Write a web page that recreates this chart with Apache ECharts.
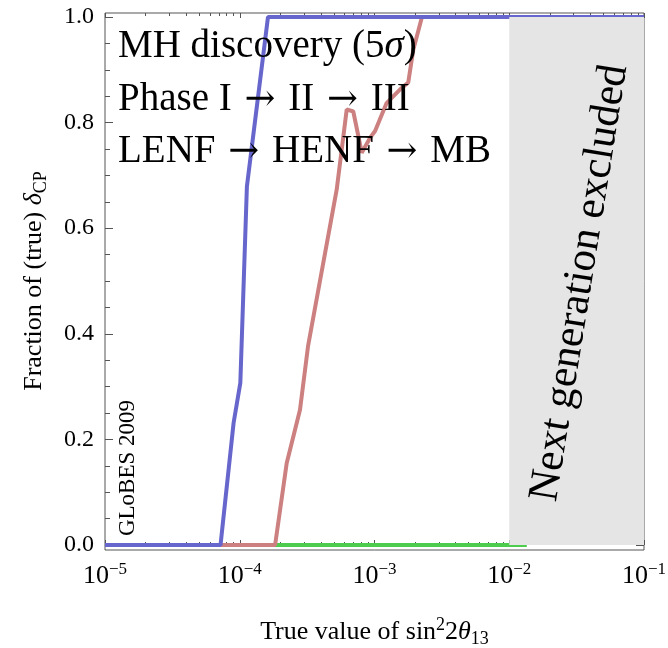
<!DOCTYPE html>
<html>
<head>
<meta charset="utf-8">
<script src="https://cdn.jsdelivr.net/npm/echarts@6/dist/echarts.min.js"></script>
<style>
html, body { margin: 0; padding: 0; background: #fff; }
#chart { width: 668px; height: 648px; }
</style>
</head>
<body>
<div id="chart"></div>
<script>
// true sin^2(2 theta13) (log axis) against fraction of delta_CP
const blueX = [1e-5, 7.2e-5, 9.0e-5, 1.01e-4, 1.13e-4, 1.62e-4, 1e-1];
const blueY = [0, 0, 0.231, 0.307, 0.679, 1, 1];

const redX = [1e-5, 1.83e-4, 2.23e-4, 2.8e-4, 3.21e-4, 5.24e-4, 6.22e-4, 6.96e-4, 8.04e-4,
  9.26e-4, 1.01e-3, 1.23e-3, 1.55e-3, 1.78e-3, 1.94e-3, 2.25e-3, 1e-1];
const redY = [0, 0, 0.155, 0.256, 0.376, 0.673, 0.825, 0.821, 0.743,
  0.771, 0.784, 0.837, 0.863, 0.876, 0.938, 1, 1];

const greenX = [1e-5, 1.35e-2];
const greenY = [0, 0];

const excluded = [1e-2, 1e-1]; // grey band
const xMajor = [1e-5, 1e-4, 1e-3, 1e-2, 1e-1];
const xMinor = [];
for (let d = -5; d < -1; d++) {
  for (let k = 2; k <= 9; k++) xMinor.push(k * Math.pow(10, d));
}

const serif = "'Liberation Serif', 'Times New Roman', 'DejaVu Serif', serif";
const arrowFont = "'DejaVu Serif', serif";
const frameColor = '#555';

function pairs(xs, ys) {
  return xs.map((x, i) => [x, ys[i]]);
}

function logAxis(pos, major, withLabels) {
  return {
    type: 'log', logBase: 10, gridIndex: 0, position: pos,
    min: 1e-5, max: 1e-1, offset: 4,
    axisLine: { show: false },
    splitLine: { show: false },
    axisTick: {
      show: true, inside: true, length: major ? 5 : 3,
      customValues: major ? xMajor : xMinor,
      lineStyle: { color: frameColor }
    },
    axisLabel: withLabels ? {
      show: true, margin: 12, customValues: xMajor,
      fontFamily: serif, color: '#000',
      formatter: v => '{b|10}{s|\u2212' + Math.round(-Math.log10(v)) + '}',
      rich: {
        b: { fontFamily: serif, fontSize: 26, lineHeight: 30, color: '#000' },
        s: { fontFamily: serif, fontSize: 17, lineHeight: 16, verticalAlign: 'top', color: '#000' }
      }
    } : { show: false },
    name: withLabels ? 'True value of sin{sup|2}2{i|\u03b8}{sub|13}' : '',
    nameLocation: 'middle', nameGap: 67,
    nameTextStyle: {
      fontFamily: serif, fontSize: 26, color: '#000', lineHeight: 32,
      rich: {
        sup: { fontFamily: serif, fontSize: 18, lineHeight: 16, verticalAlign: 'top', color: '#000' },
        sub: { fontFamily: serif, fontSize: 18, lineHeight: 16, verticalAlign: 'bottom', color: '#000' },
        i: { fontFamily: serif, fontSize: 26, fontStyle: 'italic', color: '#000' }
      }
    }
  };
}

function linAxis(pos, withLabels) {
  return {
    type: 'value', gridIndex: 0, position: pos,
    min: 0, max: 1, interval: 0.2,
    axisLine: { show: false },
    splitLine: { show: false },
    axisTick: { show: true, inside: true, length: 8, lineStyle: { color: frameColor } },
    minorTick: { show: true, splitNumber: 4, length: 5, lineStyle: { color: frameColor } },
    axisLabel: withLabels ? {
      show: true, margin: 11, fontFamily: serif, fontSize: 24, color: '#000',
      formatter: v => v.toFixed(1)
    } : { show: false },
    name: withLabels ? 'Fraction of (true) {i|\u03b4}{sub|CP}' : '',
    nameLocation: 'middle', nameGap: 55, nameRotate: 90,
    nameTextStyle: {
      fontFamily: serif, fontSize: 26, color: '#000', lineHeight: 32,
      rich: {
        sub: { fontFamily: serif, fontSize: 18, lineHeight: 16, verticalAlign: 'bottom', color: '#000' },
        i: { fontFamily: serif, fontSize: 26, fontStyle: 'italic', color: '#000' }
      }
    }
  };
}

function bigText(str, y) {
  return {
    type: 'text', x: 118, y: y, z: 100,
    style: {
      text: str, fill: '#000', fontFamily: serif, fontSize: 39,
      verticalAlign: 'middle', align: 'left',
      rich: {
        i: { fontFamily: serif, fontSize: 39, fontStyle: 'italic', fill: '#000' },
        ar: { fontFamily: arrowFont, fontSize: 37, fill: '#000', padding: [0, 3, 0, 3] }
      }
    }
  };
}

const chart = echarts.init(document.getElementById('chart'));

const option = {
  animation: false,
  backgroundColor: '#fff',
  grid: [
    { left: 105, right: 24, top: 17, bottom: 103, outerBoundsMode: 'none' },
    { left: 105, right: 24, top: 13, bottom: 98, show: true, borderColor: frameColor,
      borderWidth: 1, backgroundColor: 'transparent', outerBoundsMode: 'none' }
  ],
  xAxis: [
    logAxis('bottom', true, true),
    logAxis('bottom', false, false),
    logAxis('top', true, false),
    logAxis('top', false, false),
    { type: 'value', gridIndex: 1, show: false, min: 0, max: 1 }
  ],
  yAxis: [
    linAxis('left', true),
    linAxis('right', false),
    { type: 'value', gridIndex: 1, show: false, min: 0, max: 1 }
  ],
  series: [
    {
      name: 'green', type: 'line', data: pairs(greenX, greenY), showSymbol: false,
      lineStyle: { color: '#4dcc4d', width: 4 }, z: 2
    },
    {
      name: 'red', type: 'line', data: pairs(redX, redY), showSymbol: false,
      lineStyle: { color: '#cc8080', width: 4 }, z: 2
    },
    {
      name: 'blue', type: 'line', data: pairs(blueX, blueY), showSymbol: false,
      lineStyle: { color: '#6666cc', width: 4 }, z: 2
    },
    {
      name: 'excluded', type: 'line', data: [], z: 5,
      markArea: {
        silent: true, z: 5,
        itemStyle: { color: '#e5e5e5' },
        data: [[{ xAxis: excluded[0], yAxis: 0 }, { xAxis: excluded[1], yAxis: 1 }]]
      }
    }
  ],
  graphic: [
    bigText('MH discovery (5{i|\u03c3})', 47),
    bigText('Phase I {ar|\u2192} II {ar|\u2192} III', 100),
    bigText('LENF {ar|\u2192} HENF {ar|\u2192} MB', 152),
    {
      type: 'text', x: 580, y: 283, rotation: 80.8 * Math.PI / 180, z: 100,
      style: {
        text: 'Next generation excluded', fill: '#000', fontFamily: serif, fontSize: 43,
        verticalAlign: 'middle', align: 'center'
      }
    },
    {
      type: 'text', x: 128, y: 468, rotation: Math.PI / 2, z: 100,
      style: {
        text: 'GLoBES 2009', fill: '#000', fontFamily: serif, fontSize: 23,
        verticalAlign: 'middle', align: 'center'
      }
    }
  ]
};

chart.setOption(option);
</script>
</body>
</html>
